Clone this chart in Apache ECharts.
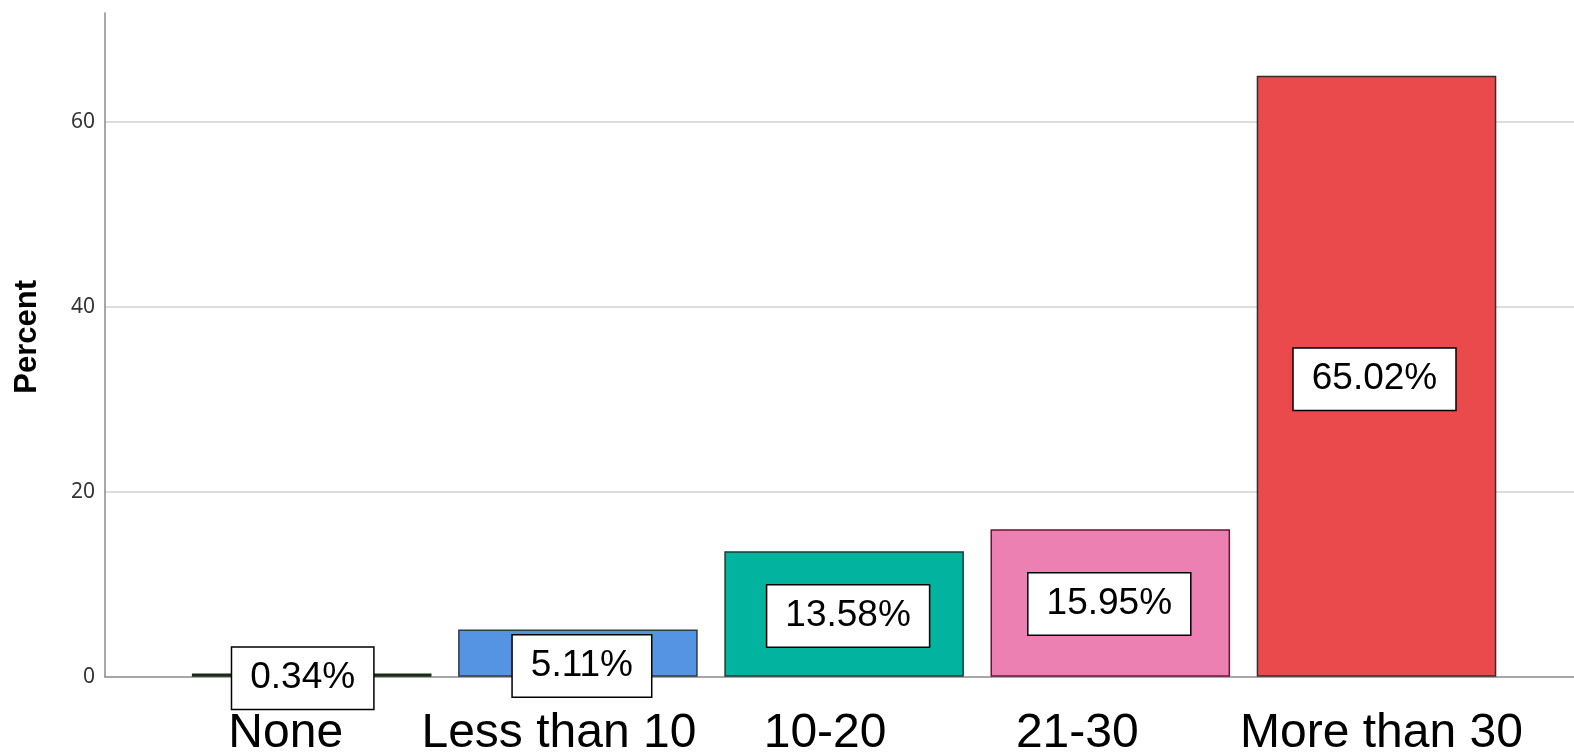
<!DOCTYPE html>
<html>
<head>
<meta charset="utf-8">
<title>Percent by category</title>
<script src="https://cdn.jsdelivr.net/npm/echarts@6/dist/echarts.min.js"></script>
<style>
  html, body { margin: 0; padding: 0; background: #fff; }
  #chart { width: 1574px; height: 752px; }
</style>
</head>
<body>
<div id="chart"></div>
<script>
// Category names along the x axis
const categories = ['None', 'Less than 10', '10-20', '21-30', 'More than 30'];
// Percent of respondents in each category
const percents = [0.34, 5.11, 13.58, 15.95, 65.02];
// Value-axis tick labels
const yTicks = [0, 20, 40, 60];

const Y_MAX = 71.8;
const TOP = 13;
const BOTTOM = 75.3;

// Bar fills and outlines
const fills = ['#1f3a1f', '#5494e2', '#02b39f', '#ec80b2', '#eb4a4c'];
const outlines = ['#1a2a1a', '#2f3a4a', '#1f3b36', '#6a1430', '#3a2a2a'];
// Fine placement of the boxed value labels inside each bar
const labelNudge = { 0: [-9, 3], 1: [4, 13], 2: [4, 2], 3: [-1, 1], 4: [-2, 3] };
// Horizontal shift of each category name (px, negative = left)
const nameShift = { 0: -26, 1: -19, 2: -19, 3: -33, 4: 5 };

const chart = echarts.init(document.getElementById('chart'), null, { renderer: 'canvas' });

const option = {
  animation: false,
  backgroundColor: '#ffffff',
  grid: [
    // frame: y axis, horizontal grid lines, baseline
    { left: 105, right: 0, top: TOP, bottom: BOTTOM, outerBoundsMode: 'none', containLabel: false },
    // bar area
    { left: 178.6, right: 64.4, top: TOP, bottom: BOTTOM, outerBoundsMode: 'none', containLabel: false }
  ],
  xAxis: [
    {
      gridIndex: 0, type: 'value', min: 0, max: 1,
      axisLine: { show: true, onZero: false, lineStyle: { color: '#8a8a8a', width: 1.5 } },
      axisTick: { show: false }, axisLabel: { show: false }, splitLine: { show: false }
    },
    {
      gridIndex: 1, type: 'category',
      data: categories.map((c, i) => ({
        value: c,
        textStyle: { padding: nameShift[i] < 0 ? [0, -2 * nameShift[i], 0, 0] : [0, 0, 0, 2 * nameShift[i]] }
      })),
      axisLine: { show: false }, axisTick: { show: false },
      axisLabel: {
        interval: 0, margin: 33,
        fontFamily: '"Liberation Sans", Arial, sans-serif', fontSize: 48, color: '#000'
      }
    }
  ],
  yAxis: [
    {
      gridIndex: 0, type: 'value', min: 0, max: Y_MAX, interval: 20,
      name: 'Percent', nameLocation: 'middle', nameGap: 62, nameRotate: 90,
      nameTextStyle: {
        fontFamily: '"Liberation Sans", Arial, sans-serif', fontWeight: 'bold', fontSize: 31, color: '#000',
        padding: [0, 0, 0, 16]
      },
      axisLine: { show: true, lineStyle: { color: '#8a8a8a', width: 1.5 } },
      axisTick: { show: false },
      axisLabel: {
        margin: 10, fontFamily: '"Noto Sans", sans-serif', fontSize: 21, color: '#333',
        showMaxLabel: false,
        formatter: v => (yTicks.indexOf(v) >= 0 ? String(v) : '')
      },
      splitLine: { show: true, showMinLine: false, showMaxLine: false, lineStyle: { color: '#d2d2d2', width: 1.5 } }
    },
    {
      gridIndex: 1, type: 'value', min: 0, max: Y_MAX, interval: 20, show: false,
      splitLine: { show: false }
    }
  ],
  series: [
    {
      type: 'bar', xAxisIndex: 1, yAxisIndex: 1,
      barWidth: '90%',
      data: percents.map((v, i) => ({
        value: v,
        itemStyle: { color: fills[i], borderColor: outlines[i], borderWidth: 1.5 },
        label: { offset: labelNudge[i] }
      })),
      label: {
        show: true, position: 'inside',
        formatter: p => p.value.toFixed(2) + '%',
        fontFamily: '"Liberation Sans", Arial, sans-serif', fontSize: 37, color: '#000',
        backgroundColor: '#ffffff', borderColor: '#000000', borderWidth: 1.5,
        padding: [12, 18, 12, 18]
      },
      z: 3
    }
  ]
};

chart.setOption(option);
</script>
</body>
</html>
